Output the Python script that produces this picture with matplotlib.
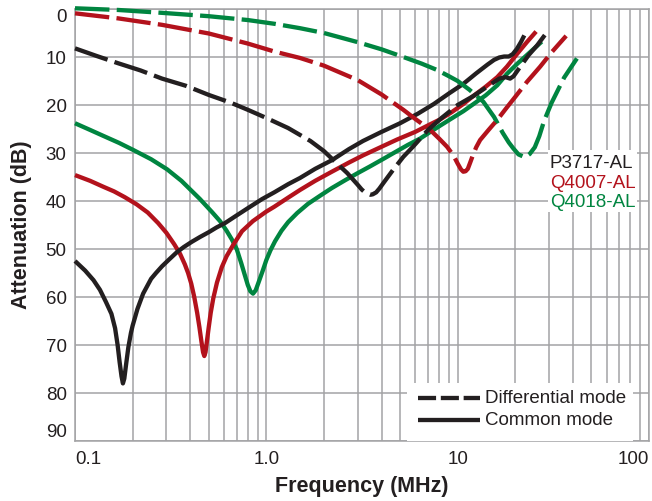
import matplotlib
matplotlib.use("Agg")
import matplotlib.pyplot as plt
from matplotlib.patches import Rectangle
from matplotlib.lines import Line2D
from matplotlib.ticker import FixedLocator, NullFormatter

plt.rcParams['font.family'] = ['Liberation Sans', 'DejaVu Sans']

# ---------------- data (frequency MHz, attenuation dB) ----------------
p3717_dm_f = [0.1, 0.13, 0.168, 0.22, 0.285, 0.38, 0.5, 0.65, 0.8, 1.0, 1.3, 1.7, 2.0, 2.3, 2.65,
              3.0, 3.15, 3.3, 3.5, 3.6, 3.75, 3.9, 4.1, 4.6, 5.2, 5.9, 7.0, 8.3, 10.0, 12.0, 14.5,
              16.5, 17.8, 18.8, 19.6, 21.0, 23.5, 26.0, 29.2]
p3717_dm_db = [8.2, 9.8, 11.3, 12.8, 14.5, 16.0, 17.9, 19.5, 21.0, 22.7, 24.8, 27.5, 29.6, 31.9, 34.2,
               36.6, 37.6, 38.3, 38.7, 38.6, 38.2, 37.4, 36.2, 33.5, 30.8, 28.5, 25.2, 22.6, 20.0,
               18.2, 16.0, 14.5, 14.2, 14.5, 14.0, 12.3, 9.6, 7.6, 4.9]

q4007_dm_f = [0.1, 0.168, 0.285, 0.5, 0.8, 1.11, 1.5, 2.0, 3.0, 4.0, 5.2, 6.0, 7.1, 8.0, 8.8, 9.5,
              10.0, 10.4, 10.7, 11.0, 11.3, 11.6, 12.0, 12.5, 13.1, 14.5, 16.1, 18.0, 20.0, 23.0,
              27.0, 31.0, 36.9]
q4007_dm_db = [0.9, 1.95, 3.3, 5.1, 7.2, 8.9, 10.2, 11.8, 14.8, 17.8, 21.0, 22.9, 25.0, 27.0, 28.7,
               30.5, 32.2, 33.4, 33.9, 33.8, 33.3, 32.1, 30.5, 28.8, 27.3, 25.2, 23.1, 20.6, 18.3,
               15.2, 12.0, 9.0, 5.6]

q4018_dm_f = [0.1, 0.168, 0.285, 0.5, 0.8, 1.11, 1.5, 2.0, 3.0, 4.0, 5.2, 6.5, 7.8, 9.0, 10.0, 11.5,
              13.6, 15.5, 17.2, 18.5, 19.5, 20.8, 22.5, 23.8, 25.3, 26.7, 28.3, 31.0, 36.0, 42.0]
q4018_dm_db = [-0.15, 0.2, 0.8, 1.5, 2.3, 3.1, 4.0, 5.0, 6.9, 8.4, 10.0, 11.4, 12.7, 14.0, 15.0, 16.8,
               19.3, 22.5, 25.8, 27.8, 29.0, 30.3, 30.9, 30.2, 28.8, 26.5, 23.3, 19.5, 14.3, 10.3]

p3717_cm_f = [0.1, 0.113, 0.125, 0.135, 0.145, 0.155, 0.162, 0.167, 0.171, 0.175, 0.178, 0.181,
              0.185, 0.19, 0.196, 0.2, 0.212, 0.227, 0.25, 0.265, 0.285, 0.31, 0.34, 0.37, 0.408,
              0.45, 0.5, 0.55, 0.608, 0.7, 0.8, 0.95, 1.1, 1.3, 1.5, 1.8, 2.2, 2.7, 3.2, 4.0, 5.0,
              6.2, 7.5, 9.0, 10.7, 12.5, 14.3, 15.5, 16.5, 17.5, 18.5, 19.4, 20.4, 21.4, 22.3]
p3717_cm_db = [52.5, 54.5, 56.5, 58.5, 61.0, 63.5, 66.5, 70.0, 73.5, 76.5, 78.0, 77.0,
               74.0, 70.5, 67.5, 66.0, 62.5, 59.3, 56.2, 55.0, 53.6, 52.2, 50.7, 49.6, 48.5,
               47.5, 46.5, 45.5, 44.6, 43.0, 41.5, 39.6, 38.2, 36.5, 35.2, 33.3, 31.5, 29.2, 27.5,
               25.6, 23.8, 21.8, 19.8, 17.6, 15.6, 13.4, 11.6, 10.6, 10.1, 9.9, 9.9, 9.4, 8.3, 6.9,
               5.5]

q4007_cm_f = [0.1, 0.12, 0.14, 0.16, 0.182, 0.21, 0.24, 0.272, 0.3, 0.33, 0.354, 0.375, 0.39, 0.405,
              0.42, 0.435, 0.447, 0.458, 0.467, 0.474, 0.481, 0.49, 0.5, 0.512, 0.528, 0.552, 0.585,
              0.62, 0.67, 0.746, 0.85, 1.0, 1.1, 1.3, 1.5, 1.8, 2.2, 2.7, 3.2, 4.0, 4.82, 6.0, 7.2,
              8.1, 9.3, 10.7, 12.0, 14.0, 16.1, 18.1, 20.4, 23.0, 25.7]
q4007_cm_db = [34.6, 35.8, 37.0, 38.0, 39.2, 40.7, 42.4, 44.6, 46.6, 49.0, 51.0, 53.2, 55.0, 57.2,
               60.0, 63.3, 66.3, 69.3, 71.5, 72.3, 71.5, 69.0, 66.3, 63.3, 60.3, 57.0, 53.8,
               51.5, 49.2, 46.3, 44.2, 42.2, 41.2, 39.3, 37.7, 35.8, 33.9, 32.0, 30.5, 28.7, 27.2,
               25.6, 24.0, 23.0, 21.5, 19.8, 18.2, 16.2, 14.2, 12.0, 9.4, 6.9, 4.7]

q4018_cm_f = [0.1, 0.12, 0.14, 0.17, 0.2, 0.25, 0.303, 0.36, 0.45, 0.52, 0.573, 0.62, 0.66, 0.7,
              0.74, 0.77, 0.8, 0.825, 0.852, 0.88, 0.91, 0.96, 1.0, 1.05, 1.11, 1.2, 1.3, 1.45,
              1.65, 1.91, 2.2, 2.6, 3.0, 3.48, 4.1, 4.82, 5.5, 6.36, 7.2, 8.1, 9.3, 10.7, 12.0, 14.0,
              16.1, 18.1, 20.5, 23.9, 27.5]
q4018_cm_db = [23.8, 25.2, 26.4, 27.9, 29.3, 31.3, 33.4, 35.8, 39.6, 42.3, 44.2, 46.2, 48.0, 50.0,
               53.0, 55.3, 57.5, 58.8, 59.3, 58.6, 57.0, 54.4, 52.3, 50.3, 48.4, 46.2, 44.4, 42.5,
               40.6, 38.9, 37.3, 35.6, 34.2, 32.8, 31.2, 29.6, 28.3, 27.0, 25.6, 24.3, 22.8, 21.3,
               19.9, 18.0, 15.9, 13.5, 11.4, 9.0, 6.8]

parts = ["P3717-AL", "Q4007-AL", "Q4018-AL"]
modes = ["Differential mode", "Common mode"]
x_ticks = [0.1, 1.0, 10, 100]
x_ticklabels = ["0.1", "1.0", "10", "100"]
y_ticks = [0, 10, 20, 30, 40, 50, 60, 70, 80, 90]

# ---------------- style ----------------
BLACK = "#231f20"
RED = "#b3121c"
GREEN = "#008540"
GRID = "#a3a3a5"
LW = 3.1
DASH = (8.0, 1.7)

fig = plt.figure(figsize=(6.52, 5.01), dpi=100)
ax = fig.add_axes([75 / 652, 1 - 441 / 501, 574 / 652, 432 / 501])
ax.set_xscale("log")
ax.set_xlim(0.1, 100)
ax.set_ylim(90, 0)

series = [
    (q4018_cm_f, q4018_cm_db, GREEN, "-"),
    (q4007_cm_f, q4007_cm_db, RED, "-"),
    (p3717_cm_f, p3717_cm_db, BLACK, "-"),
    (q4018_dm_f, q4018_dm_db, GREEN, "--"),
    (q4007_dm_f, q4007_dm_db, RED, "--"),
    (p3717_dm_f, p3717_dm_db, BLACK, "--"),
]
for f, d, c, ls in series:
    line, = ax.plot(f, d, color=c, lw=LW, solid_capstyle="butt", dash_capstyle="butt",
                    solid_joinstyle="round", dash_joinstyle="round", clip_on=False, zorder=3)
    if ls == "--":
        line.set_dashes(DASH)

# grid
ax.xaxis.set_major_locator(FixedLocator(x_ticks))
ax.set_xticklabels(x_ticklabels)
minor = [m * 10 ** e for e in (-1, 0, 1) for m in range(2, 10)]
ax.xaxis.set_minor_locator(FixedLocator(minor))
ax.xaxis.set_minor_formatter(NullFormatter())
ax.set_yticks(y_ticks)
ax.grid(True, which="both", axis="x", color=GRID, lw=1.1, zorder=1)
ax.grid(True, which="major", axis="y", color=GRID, lw=1.1, zorder=1)
ax.set_axisbelow(True)
ax.tick_params(which="both", length=0, labelsize=13.5, colors=BLACK)
ax.tick_params(axis="x", pad=7)
ax.tick_params(axis="y", pad=6)
for s in ax.spines.values():
    s.set_color(GRID)
    s.set_linewidth(1.1)

xt = ax.xaxis.get_major_ticks()
xt[0].label1.set_horizontalalignment("left")
xt[-1].label1.set_horizontalalignment("right")
yt = ax.yaxis.get_major_ticks()
yt[0].label1.set_verticalalignment("top")
yt[-1].label1.set_verticalalignment("bottom")

ax.set_xlabel("Frequency (MHz)", fontsize=15.5, fontweight="bold", color=BLACK, labelpad=6)
ax.set_ylabel("Attenuation (dB)", fontsize=15.5, fontweight="bold", color=BLACK, labelpad=10)

# part legend
ax.add_patch(Rectangle((0.824, 0.530), 0.155, 0.144, transform=ax.transAxes,
                       facecolor="white", edgecolor="none", zorder=5))
for name, col, yy in zip(parts, [BLACK, RED, GREEN], [0.6435, 0.597, 0.551]):
    ax.text(0.8275, yy, name, color=col, fontsize=13.5, transform=ax.transAxes,
            ha="left", va="center", zorder=6)

# mode legend
ax.add_patch(Rectangle((0.578, 0.0), 0.394, 0.134, transform=ax.transAxes,
                       facecolor="white", edgecolor="none", zorder=5))
for name, ls, yy in zip(modes, ["--", "-"], [0.0995, 0.0486]):
    ln = Line2D([0.5976, 0.7056], [yy, yy], transform=ax.transAxes, color=BLACK, lw=LW,
                solid_capstyle="butt", dash_capstyle="butt", zorder=6)
    if ls == "--":
        ln.set_dashes((4.2, 1.1))
    ax.add_line(ln)
    ax.text(0.714, yy, name, color=BLACK, fontsize=13.5, transform=ax.transAxes,
            ha="left", va="center", zorder=6)

fig.savefig("out.png", dpi=100)
